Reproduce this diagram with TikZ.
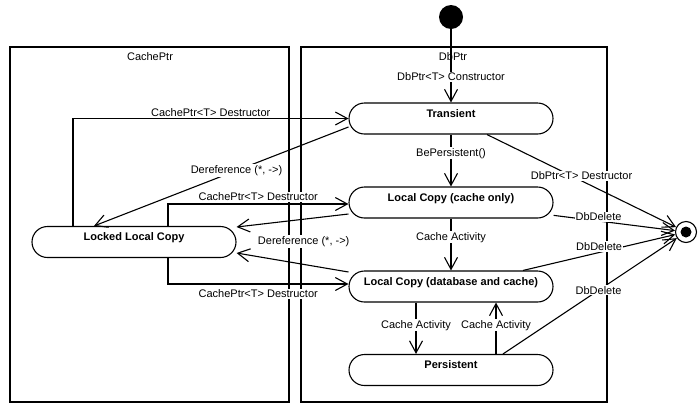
\documentclass[tikz,border=0pt]{standalone}
\usepackage{fontspec}
\setmainfont{Liberation Sans}
\usetikzlibrary{arrows.meta,calc}
\begin{document}
\begin{tikzpicture}[x=1pt,y=-1pt,
  every node/.style={font=\fontsize{11}{13}\selectfont},
  state/.style={draw, line width=1.1pt, rounded corners=15.5pt, minimum width=204pt,
    text height=14pt, text depth=17pt, inner ysep=0pt, inner xsep=2pt,
    font=\fontsize{11}{13}\selectfont\bfseries},
  region/.style={draw, line width=1.1pt, inner sep=0pt},
  tr/.style={line width=1.1pt, -{Straight Barb[length=12pt,width=13pt,line width=1.1pt]}},
  lbl/.style={fill=white, inner sep=1pt},
]
\useasboundingbox (0,0) rectangle (700,405);

% regions
\node[region, minimum width=279pt, minimum height=355pt] (CB) at (149.5,224.5) {};
\node[region, minimum width=306pt, minimum height=355pt] (DB) at (454,224.5) {};
\node (cpt) at (150,57) {CachePtr};
\node (dbt) at (453,57) {DbPtr};

% pseudo states
\node[circle, fill, minimum size=24pt, inner sep=0pt] (I) at (451,17) {};
\node[circle, draw, line width=1.1pt, minimum size=21pt, inner sep=0pt] (F) at (686,232) {};
\node[circle, fill, minimum size=11pt, inner sep=0pt] (Fd) at (F) {};

% states
\node[state] (T) at (451,118.5) {Transient};
\node[state] (LCc) at (451,202.5) {Local Copy (cache only)};
\node[state] (LCdb) at (451,286.5) {Local Copy (database and cache)};
\node[state] (P) at (451,370) {Persistent};
\node[state] (L) at (134,242) {Locked Local Copy};

% transitions in DbPtr
\draw[tr] (I) -- node[lbl,pos=0.65]{DbPtr<T> Constructor} (T);
\draw[tr] (T) -- node[lbl,pos=0.36]{BePersistent()} (LCc);
\draw[tr] (LCc) -- node[lbl,pos=0.36]{Cache Activity} (LCdb);
\draw[tr] ([xshift=-35pt]LCdb.south) -- node[lbl,pos=0.44]{Cache Activity} ([xshift=-35pt]P.north);
\draw[tr] ([xshift=45pt]P.north) -- node[lbl,pos=0.56]{Cache Activity} ([xshift=45pt]LCdb.south);

% to final state
\draw[tr] ([xshift=36pt]T.south) -- node[lbl,pos=0.5,yshift=5pt]{DbPtr<T> Destructor} (F);
\draw[tr] (LCc) -- node[lbl,pos=0.37,yshift=4pt]{DbDelete} (F);
\draw[tr] ([xshift=72pt]LCdb.north) -- node[lbl,pos=0.5,yshift=6pt]{DbDelete} (F);
\draw[tr] ([xshift=52pt]P.north) -- node[lbl,pos=0.55]{DbDelete} (F);

% CachePtr transitions
\draw[tr] ([xshift=-61pt]L.north) |- node[lbl,pos=0.75,above]{CachePtr<T> Destructor} (T.west);
\draw[tr] ([yshift=-8.5pt]T.west) -- node[lbl,pos=0.44]{Dereference (*, ->)} ([xshift=-40pt]L.north);
\draw[tr] ([xshift=34pt]L.north) |- node[lbl,pos=0.75,above=1.5pt]{CachePtr<T> Destructor} ([yshift=-1.5pt]LCc.west);
\draw[tr] ([yshift=-11.5pt]LCc.west) -- ([yshift=15pt]L.east);
\draw[tr] ([yshift=14.5pt]LCdb.west) -- node[lbl,pos=0.4,yshift=23pt]{Dereference (*, ->)} ([yshift=-11pt]L.east);
\draw[tr] ([xshift=34pt]L.south) |- node[lbl,pos=0.75,below=4pt]{CachePtr<T> Destructor} ([yshift=2.5pt]LCdb.west);
\end{tikzpicture}
\end{document}
